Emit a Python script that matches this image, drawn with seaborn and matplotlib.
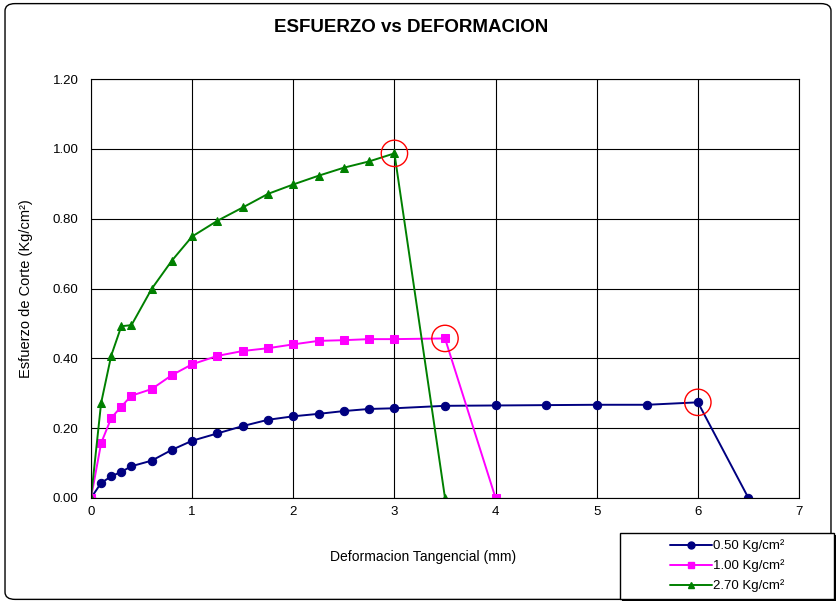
import numpy as np
import pandas as pd
import matplotlib
matplotlib.use("Agg")
import matplotlib.pyplot as plt
from matplotlib.patches import FancyBboxPatch, Rectangle
import seaborn as sns

# datos
deformacion = [0, 0.1, 0.2, 0.3, 0.4, 0.6, 0.8, 1.0, 1.25, 1.5, 1.75, 2.0,
               2.25, 2.5, 2.75, 3.0, 3.5, 4.0, 4.5, 5.0, 5.5, 6.0, 6.5]
esf_050 = [0, 0.043, 0.062, 0.075, 0.091, 0.107, 0.138, 0.164, 0.185, 0.206,
           0.224, 0.234, 0.241, 0.249, 0.255, 0.257, 0.264, 0.265, 0.266,
           0.267, 0.267, 0.274, 0]
esf_100 = [0, 0.157, 0.229, 0.262, 0.293, 0.312, 0.352, 0.383, 0.407, 0.421,
           0.429, 0.440, 0.450, 0.452, 0.455, 0.455, 0.457, 0]
esf_270 = [0, 0.272, 0.408, 0.492, 0.495, 0.599, 0.680, 0.749, 0.794, 0.832,
           0.871, 0.898, 0.923, 0.946, 0.964, 0.987, 0]
series = ["0.50 Kg/cm²", "1.00 Kg/cm²", "2.70 Kg/cm²"]
colores = ["#000080", "#FF00FF", "#008000"]
marcadores = ["o", "s", "^"]
pico_x = [6.0, 3.5, 3.0]
pico_y = [0.274, 0.457, 0.987]

frames = []
for nombre, vals in zip(series, [esf_050, esf_100, esf_270]):
    frames.append(pd.DataFrame({"def": deformacion[:len(vals)], "esf": vals, "carga": nombre}))
df = pd.concat(frames, ignore_index=True)

sns.set_style("white")
plt.rcParams['font.family'] = ['Liberation Sans', 'DejaVu Sans']
plt.rcParams['text.color'] = 'black'
plt.rcParams['axes.labelcolor'] = 'black'

fig = plt.figure(figsize=(8.36, 6.03), dpi=100)
ax = fig.add_axes([91/836, 1-498/603, (799-91)/836, (498-79)/603])

# borde redondeado del grafico
fig.patches.append(FancyBboxPatch((0.006, 0.006), 0.988, 0.988, boxstyle="round,pad=0,rounding_size=0.012",
                                  transform=fig.transFigure, fill=False, ec="black", lw=1.0))

sns.lineplot(data=df, x="def", y="esf", hue="carga", style="carga", hue_order=series,
             style_order=series, palette=colores, markers=marcadores, dashes=False,
             sort=False, lw=1.4, ms=6, ax=ax, legend=False)
for line, c in zip(ax.lines, colores):
    line.set_markeredgecolor(c)
    line.set_markerfacecolor(c)

sns.scatterplot(x=pico_x, y=pico_y, s=360, facecolor="none", edgecolor="red", linewidth=1.0,
                ax=ax, zorder=5, legend=False)

ax.set_xlim(0, 7)
ax.set_ylim(0, 1.2)
ax.set_xticks(range(8))
ax.set_yticks(np.arange(0, 1.21, 0.2))
ax.set_yticklabels([f"{v:.2f}" for v in np.arange(0, 1.21, 0.2)])
ax.grid(True, color="black", lw=0.8)
ax.set_axisbelow(True)
for s in ax.spines.values():
    s.set_color("black")
    s.set_linewidth(0.8)
ax.tick_params(axis="both", labelsize=9.5, length=5, width=0.8, direction="out",
               colors="black", labelcolor="black")
ax.tick_params(axis="x", length=0, pad=6)
ax.tick_params(axis="y", pad=4)

ax.set_xlabel("")
ax.set_ylabel("Esfuerzo de Corte (Kg/cm²)", fontsize=10.5, labelpad=14)
fig.text(423/836, 1-557/603, "Deformacion Tangencial (mm)", ha="center", va="center", fontsize=10)
fig.text(411/836, 1-28/603, "ESFUERZO vs DEFORMACION", ha="center", va="center",
         fontsize=13.5, fontweight="bold")

# leyenda en caja aparte, con sombra
sombra = Rectangle((622/836, 1-601/603), 214/836, 66/603, transform=fig.transFigure,
                   fc="black", ec="none")
caja = Rectangle((620/836, 1-599/603), 214/836, 66/603, transform=fig.transFigure,
                 fill=True, fc="white", ec="black", lw=1.0)
fig.patches.extend([sombra, caja])
handles = [plt.Line2D([], [], color=c, marker=m, mfc=c, mec=c, ms=5, lw=1.4)
           for c, m in zip(colores, marcadores)]
fig.legend(handles, series, loc="center", bbox_to_anchor=(727/836, 1-566/603), frameon=False,
           fontsize=9.5, handlelength=3.2, labelspacing=0.55, handletextpad=0.1, borderpad=0)

fig.savefig("out.png", dpi=100, facecolor="white")
